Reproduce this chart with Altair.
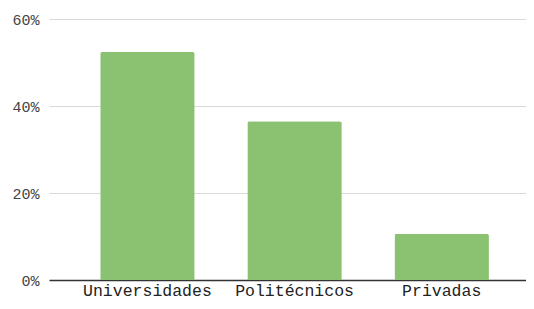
import altair as alt
import pandas as pd

categories = ["Universidades", "Politécnicos", "Privadas"]
values = [52.4, 36.5, 10.6]
y_ticks = [0, 20, 40, 60]

df = pd.DataFrame({"cat": categories, "val": values})

font = "Liberation Mono"

chart = alt.Chart(df).mark_bar(
    color="#8bc272", cornerRadiusTopLeft=2, cornerRadiusTopRight=2
).encode(
    x=alt.X("cat:N", sort=categories, title=None,
            scale=alt.Scale(paddingInner=0.358, paddingOuter=0.3, align=0.58),
            axis=alt.Axis(labelAngle=0, ticks=False, domainColor="#333333",
                          domainWidth=1.5, labelFont=font, labelFontSize=16.5,
                          labelColor="#222222", labelPadding=2, grid=False)),
    y=alt.Y("val:Q", title=None,
            scale=alt.Scale(domain=[0, 60], nice=False),
            axis=alt.Axis(values=y_ticks, labelExpr="datum.value + '%'",
                          ticks=False, domain=False, gridColor="#d9d9d9",
                          labelFont=font, labelFontSize=15, labelColor="#444444",
                          labelPadding=10)),
).properties(
    width=477, height=261,
    autosize=alt.AutoSizeParams(type="none"),
    padding={"left": 41, "top": 11, "right": 0, "bottom": 21},
).configure_view(stroke=None)

chart.save("out.html", embed_options={"renderer": "svg", "actions": False})
